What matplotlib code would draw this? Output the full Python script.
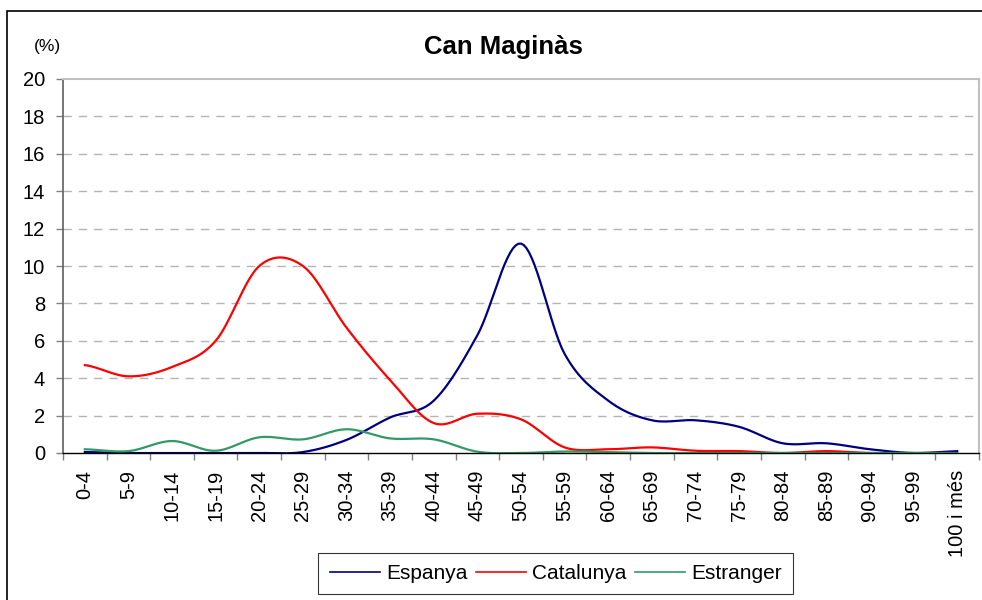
import numpy as np
import matplotlib
matplotlib.use("Agg")
import matplotlib.pyplot as plt
from matplotlib.patches import Rectangle

plt.rcParams['font.family'] = ['Liberation Sans', 'DejaVu Sans']

categories = ["0-4", "5-9", "10-14", "15-19", "20-24", "25-29", "30-34", "35-39",
              "40-44", "45-49", "50-54", "55-59", "60-64", "65-69", "70-74", "75-79",
              "80-84", "85-89", "90-94", "95-99", "100 i més"]
espanya = [0.05, 0.0, 0.0, 0.0, 0.0, 0.05, 0.7, 1.9, 2.8, 6.3, 11.2, 5.3, 2.8,
           1.75, 1.75, 1.4, 0.52, 0.52, 0.2, 0.0, 0.1]
catalunya = [4.7, 4.1, 4.6, 6.0, 10.0, 10.0, 6.7, 3.9, 1.6, 2.1, 1.8, 0.3, 0.2,
             0.3, 0.12, 0.1, 0.0, 0.1, 0.0, 0.0, 0.0]
estranger = [0.2, 0.1, 0.64, 0.12, 0.84, 0.73, 1.27, 0.78, 0.73, 0.07, 0.0, 0.08,
             0.05, 0.0, 0.0, 0.0, 0.0, 0.0, 0.0, 0.0, 0.0]
series_names = ["Espanya", "Catalunya", "Estranger"]
colors = ["#000080", "#FF0000", "#339966"]
yticks = list(range(0, 21, 2))


def smooth(vals, n=16):
    # Catmull-Rom style smoothing (like a spreadsheet "smoothed line")
    y = np.asarray(vals, dtype=float)
    x = np.arange(len(y), dtype=float)
    ext = np.concatenate([[y[0]], y, [y[-1]]])
    xs, ys = [], []
    for i in range(len(y) - 1):
        p0, p1, p2, p3 = ext[i], ext[i + 1], ext[i + 2], ext[i + 3]
        m1 = (p2 - p0) / 2.0
        m2 = (p3 - p1) / 2.0
        t = np.linspace(0, 1, n, endpoint=False)
        h00 = 2 * t**3 - 3 * t**2 + 1
        h10 = t**3 - 2 * t**2 + t
        h01 = -2 * t**3 + 3 * t**2
        h11 = t**3 - t**2
        xs.append(x[i] + t)
        ys.append(h00 * p1 + h10 * m1 + h01 * p2 + h11 * m2)
    xs.append([x[-1]])
    ys.append([y[-1]])
    return np.concatenate(xs), np.concatenate(ys)


fig = plt.figure(figsize=(9.82, 6.0), dpi=100)
ax = fig.add_axes([63 / 982, 1 - 453 / 600, (979 - 63) / 982, (453 - 79) / 600])

for vals, name, c in zip([espanya, catalunya, estranger], series_names, colors):
    xs, ys = smooth(vals)
    ax.plot(xs, ys, color=c, lw=1.6, label=name, solid_joinstyle='round')

ax.set_xlim(-0.5, len(categories) - 0.5)
ax.set_ylim(0, 20)
ax.set_yticks(yticks)
ax.set_yticklabels([str(v) for v in yticks], fontsize=14.5)
ax.set_xticks(np.arange(len(categories)))
ax.set_xticklabels(categories, rotation=90, fontsize=14.5)
ax.set_xticks(np.arange(len(categories) + 1) - 0.5, minor=True)
ax.tick_params(axis='x', which='major', length=0, pad=12)
ax.tick_params(axis='x', which='minor', length=5, width=1, color='#808080', direction='out')
ax.tick_params(axis='y', length=5, width=1, color='#808080', direction='out', pad=8)

for v in yticks[1:-1]:
    ax.axhline(v, color='#B4B4B4', lw=1, ls=(0, (6, 5)), zorder=0)

ax.spines['top'].set_color('#C0C0C0')
ax.spines['right'].set_color('#C0C0C0')
ax.spines['top'].set_linewidth(1.5)
ax.spines['right'].set_linewidth(1.5)
ax.spines['left'].set_color('#606060')
ax.spines['left'].set_linewidth(1.2)
ax.spines['bottom'].set_color('#000000')
ax.spines['bottom'].set_linewidth(1.0)

fig.text(503 / 982, 1 - 47 / 600, "Can Maginàs", ha='center', va='center',
         fontsize=18.5, fontweight='bold')
fig.text(47.5 / 982, 1 - 47 / 600, "(%)", ha='center', va='center', fontsize=12.5)

leg = fig.legend(loc='center', bbox_to_anchor=(555.5 / 982, 1 - 573.5 / 600),
                 ncol=3, fontsize=15, frameon=True, fancybox=False,
                 edgecolor='black', handlelength=2.4, handletextpad=0.3,
                 columnspacing=0.4, borderpad=0.55)
leg.get_frame().set_linewidth(0.8)
for line in leg.get_lines():
    line.set_linewidth(1.2)

fig.patches.append(Rectangle((7 / 982, -0.1), 1.2, 1.1 - 11 / 600 + 0.0,
                             transform=fig.transFigure, fill=False,
                             edgecolor='black', lw=1.2))

fig.savefig("out.png", dpi=100)
